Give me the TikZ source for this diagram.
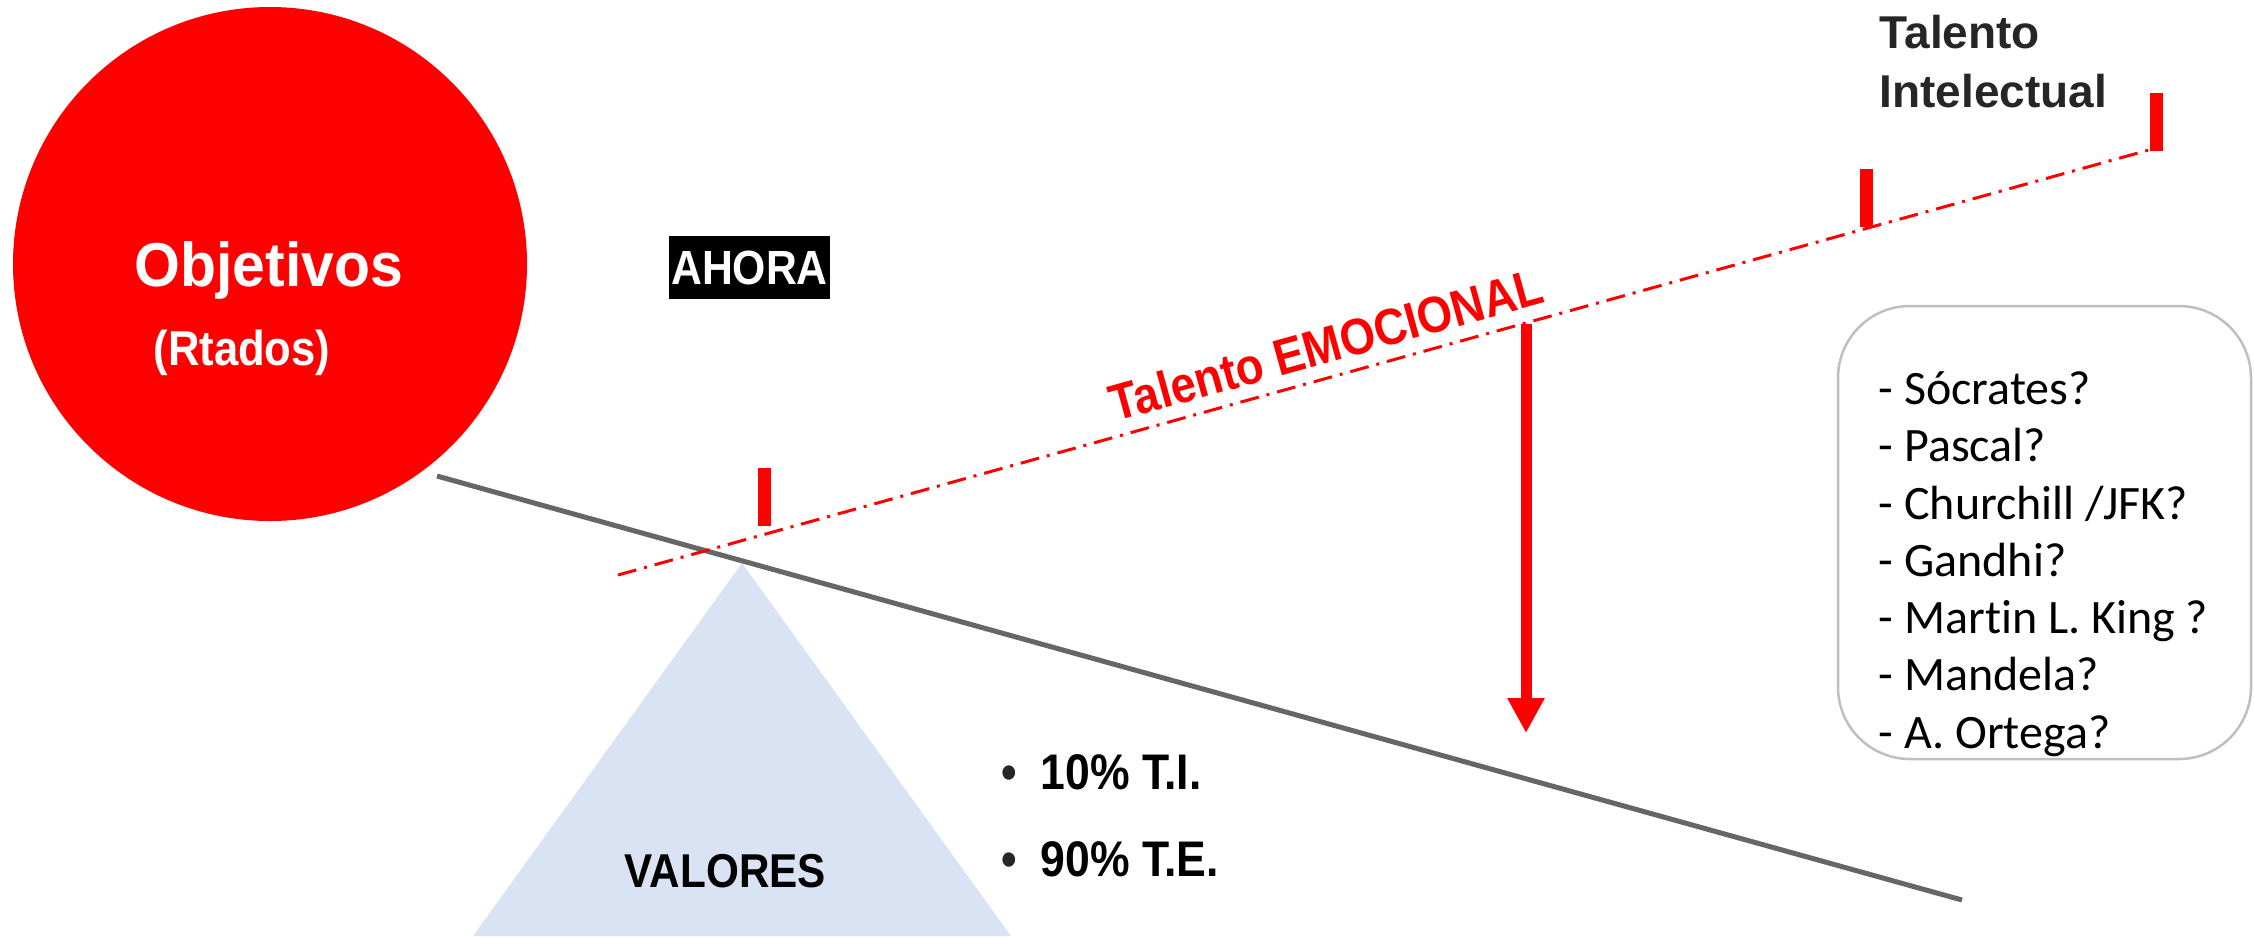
\documentclass[tikz,border=0pt]{standalone}
\usepackage{fontspec}
\setmainfont{Liberation Sans}
\newfontfamily\robf[FakeStretch=0.89]{Liberation Sans}
\newfontfamily\robw[FakeStretch=0.95]{Liberation Sans}
\newfontfamily\calf[Ligatures={NoCommon}]{Carlito}
\usetikzlibrary{arrows.meta}
\definecolor{objred}{HTML}{FF0000}
\definecolor{beamgray}{HTML}{666666}
\definecolor{triblue}{HTML}{DAE3F3}
\definecolor{darktxt}{HTML}{262626}
\definecolor{boxgray}{HTML}{BFBFBF}
\begin{document}
\begin{tikzpicture}[x=0.1mm,y=-0.1mm,
  tickbox/.style={fill=objred, draw=none, inner sep=0, minimum width=1.3mm, minimum height=5.8mm},
  wtext/.style={text=white, inner sep=0},
  btext/.style={text=black, inner sep=0},
  beamline/.style={draw=beamgray, line width=0.5mm},
  emoline/.style={draw=objred, line width=0.3mm, dash pattern=on 1.9mm off 0.8mm on 0.3mm off 0.8mm},
  downarrow/.style={draw=objred, line width=1.1mm, -{Triangle[width=3.5mm,length=3.5mm]}},
  listitem/.style={anchor=base west, inner sep=0, text=black, font=\calf\fontsize{13.66pt}{16pt}\selectfont},
  pctfont/.style={font=\robf\bfseries\fontsize{14.23pt}{16pt}\selectfont}
]
\useasboundingbox (0,0) rectangle (2254,936);
% fulcrum triangle
\coordinate (apex) at (742,563);
\fill[triblue] (apex) -- (1011,936) -- (473,936) -- cycle;
% objetivos circle
\node[circle, fill=objred, minimum size=51.4mm, inner sep=0] (obj) at (270,264) {};
\node[wtext, anchor=base, font=\robw\bfseries\fontsize{17.64pt}{21pt}\selectfont] (objt) at (269,286.5) {Objetivos};
\node[wtext, anchor=base, font=\robf\bfseries\fontsize{13.94pt}{16pt}\selectfont] (rtad) at (242,365) {(Rtados)};
% AHORA
\node[fill=black, minimum width=16.1mm, minimum height=6.3mm, inner sep=0, text=white, font=\robf\bfseries\fontsize{13.66pt}{16pt}\selectfont] (ahora) at (749.5,267.5) {AHORA};
% beam
\coordinate (bl) at (437,476);
\coordinate (br) at (1962,900);
\draw[beamline] (bl) -- (br);
% emotional talent line
\coordinate (el) at (618,575);
\coordinate (er) at (2156,148);
\draw[emoline] (el) -- (er);
% ticks
\node[tickbox] (t1) at (764.5,497) {};
\node[tickbox] (t2) at (1866,197.5) {};
\node[tickbox] (t3) at (2156.5,121.5) {};
% arrow
\coordinate (as) at (1526,324);
\coordinate (ae) at (1526,733);
\draw[downarrow] (as) -- (ae);
% rotated label
\node[anchor=base, inner sep=0, rotate=15.5, text=objred, font=\robf\bfseries\fontsize{14.5pt}{16pt}\selectfont] (emo) at (1331,362) {Talento EMOCIONAL};
% VALORES
\node[btext, anchor=base, font=\robf\bfseries\fontsize{13.51pt}{16pt}\selectfont] (val) at (725.5,887) {VALORES};
% bullets
\node[anchor=base, inner sep=0, text=darktxt, pctfont] (b1) at (1009,789) {\textbullet};
\node[btext, anchor=base west, pctfont] (ti) at (1040,789) {10\% T.I.};
\node[anchor=base, inner sep=0, text=darktxt, pctfont] (b2) at (1009,876) {\textbullet};
\node[btext, anchor=base west, pctfont] (te) at (1040,876) {90\% T.E.};
% Talento Intelectual
\node[anchor=base west, inner sep=0, text=darktxt, font=\bfseries\fontsize{13.09pt}{16pt}\selectfont] (tal1) at (1879,48) {Talento};
\node[anchor=base west, inner sep=0, text=darktxt, font=\bfseries\fontsize{13.09pt}{16pt}\selectfont] (tal2) at (1879,107) {Intelectual};
% names box
\node[draw=boxgray, line width=0.25mm, rounded corners=7.2mm, minimum width=41.3mm, minimum height=45.3mm, inner sep=0] (names) at (2044.5,532.5) {};
\node[listitem] (n1) at (1878,404) {- Sócrates?};
\node[listitem] (n2) at (1878,461) {- Pascal?};
\node[listitem] (n3) at (1878,519) {- Churchill /JFK?};
\node[listitem] (n4) at (1878,576) {- Gandhi?};
\node[listitem] (n5) at (1878,633) {- Martin L. King ?};
\node[listitem] (n6) at (1878,690) {- Mandela?};
\node[listitem] (n7) at (1878,748) {- A. Ortega?};
\end{tikzpicture}
\end{document}
